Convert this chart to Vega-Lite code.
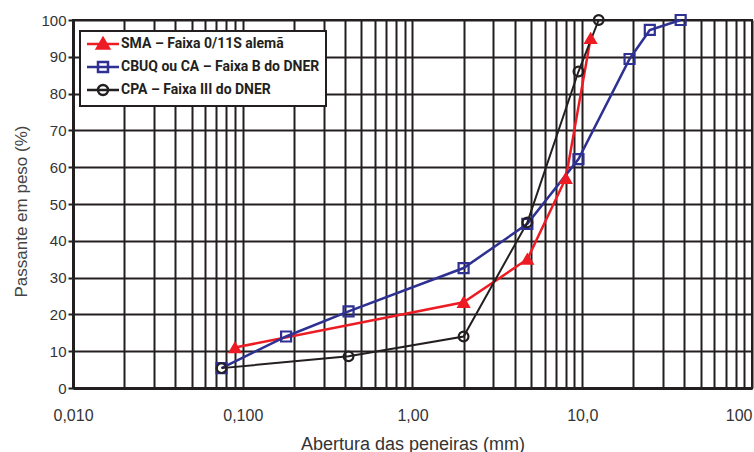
{
  "$schema": "https://vega.github.io/schema/vega-lite/v6.json",
  "width": 679,
  "height": 368,
  "autosize": "none",
  "padding": {"left": 73, "top": 20, "right": 2, "bottom": 64},
  "background": "white",
  "config": {"view": {"stroke": "#231F20", "strokeWidth": 2}},
  "data": {
    "values": [
      {"serie": "SMA – Faixa 0/11S alemã", "abertura": 0.09, "passante": 11},
      {"serie": "SMA – Faixa 0/11S alemã", "abertura": 2.0, "passante": 23.3},
      {"serie": "SMA – Faixa 0/11S alemã", "abertura": 4.75, "passante": 35},
      {"serie": "SMA – Faixa 0/11S alemã", "abertura": 8.0, "passante": 57},
      {"serie": "SMA – Faixa 0/11S alemã", "abertura": 11.2, "passante": 95},
      {"serie": "CBUQ ou CA – Faixa B do DNER", "abertura": 0.075, "passante": 5.4},
      {"serie": "CBUQ ou CA – Faixa B do DNER", "abertura": 0.18, "passante": 14},
      {"serie": "CBUQ ou CA – Faixa B do DNER", "abertura": 0.42, "passante": 20.8},
      {"serie": "CBUQ ou CA – Faixa B do DNER", "abertura": 2.0, "passante": 32.6},
      {"serie": "CBUQ ou CA – Faixa B do DNER", "abertura": 4.75, "passante": 44.6},
      {"serie": "CBUQ ou CA – Faixa B do DNER", "abertura": 9.5, "passante": 62.2},
      {"serie": "CBUQ ou CA – Faixa B do DNER", "abertura": 19, "passante": 89.4},
      {"serie": "CBUQ ou CA – Faixa B do DNER", "abertura": 25, "passante": 97.3},
      {"serie": "CBUQ ou CA – Faixa B do DNER", "abertura": 38, "passante": 100},
      {"serie": "CPA – Faixa III do DNER", "abertura": 0.075, "passante": 5.4},
      {"serie": "CPA – Faixa III do DNER", "abertura": 0.42, "passante": 8.6},
      {"serie": "CPA – Faixa III do DNER", "abertura": 2.0, "passante": 14},
      {"serie": "CPA – Faixa III do DNER", "abertura": 4.75, "passante": 45},
      {"serie": "CPA – Faixa III do DNER", "abertura": 9.5, "passante": 86},
      {"serie": "CPA – Faixa III do DNER", "abertura": 12.5, "passante": 100}
    ]
  },
  "encoding": {
    "x": {
      "field": "abertura",
      "type": "quantitative",
      "scale": {"type": "log", "domain": [0.01, 100], "nice": false},
      "axis": {
        "values": [0.01, 0.02, 0.03, 0.04, 0.05, 0.06, 0.07, 0.08, 0.09, 0.1, 0.2, 0.3, 0.4, 0.5, 0.6, 0.7, 0.8, 0.9, 1, 2, 3, 4, 5, 6, 7, 8, 9, 10, 20, 30, 40, 50, 60, 70, 80, 90, 100],
        "labelExpr": "datum.value == 0.01 ? '0,010' : datum.value == 0.1 ? '0,100' : datum.value == 1 ? '1,00' : datum.value == 10 ? '10,0' : datum.value == 100 ? '100' : ''",
        "labelFlush": false,
        "labelOverlap": false,
        "labelAlign": {"condition": {"test": "datum.value >= 100", "value": "right"}, "value": "center"},
        "grid": true,
        "gridColor": "#231F20",
        "gridWidth": 2,
        "gridOpacity": 1,
        "domainColor": "#231F20",
        "domainWidth": 3,
        "ticks": false,
        "labelPadding": 19,
        "labelFont": "Liberation Sans",
        "labelFontSize": 16,
        "labelColor": "#333333",
        "title": "Abertura das peneiras (mm)",
        "titleFont": "Liberation Sans",
        "titleFontSize": 18,
        "titleFontWeight": "normal",
        "titleColor": "#333333",
        "titlePadding": 12
      }
    },
    "y": {
      "field": "passante",
      "type": "quantitative",
      "scale": {"domain": [0, 100], "nice": false},
      "axis": {
        "values": [0, 10, 20, 30, 40, 50, 60, 70, 80, 90, 100],
        "grid": true,
        "gridColor": "#231F20",
        "gridWidth": 2,
        "gridOpacity": 1,
        "domainColor": "#231F20",
        "domainWidth": 3,
        "tickColor": "#231F20",
        "tickSize": 5,
        "tickWidth": 2,
        "labelPadding": 2,
        "labelFont": "Liberation Sans",
        "labelFontSize": 15,
        "labelColor": "#333333",
        "title": "Passante em peso (%)",
        "titleFont": "Liberation Sans",
        "titleFontSize": 17,
        "titleFontWeight": "normal",
        "titleColor": "#444444",
        "titlePadding": 10,
        "titleY": 191
      }
    },
    "color": {
      "field": "serie",
      "type": "nominal",
      "scale": {
        "domain": ["SMA – Faixa 0/11S alemã", "CBUQ ou CA – Faixa B do DNER", "CPA – Faixa III do DNER"],
        "range": ["#ED1C24", "#2E3192", "#231F20"]
      },
      "legend": {
        "title": null,
        "orient": "none",
        "legendX": 7,
        "legendY": 11,
        "padding": 6,
        "rowPadding": 3,
        "symbolSize": 100,
        "symbolOffset": 10,
        "symbolStrokeWidth": 2.5,
        "symbolOpacity": 1,
        "labelOffset": 11,
        "labelFont": "Roboto",
        "labelFontSize": 14,
        "labelFontWeight": "bold",
        "labelColor": "#231F20",
        "labelLimit": 0,
        "fillColor": "white",
        "strokeColor": "#231F20",
        "encode": {
          "symbols": {
            "update": {
              "shape": {"signal": "indexof(datum.value, 'SMA') == 0 ? 'M-3.2,0H3.2M0,-1.15L1.2,0.9L-1.2,0.9Z' : indexof(datum.value, 'CBUQ') == 0 ? 'M-3.2,0H3.2M-1,-1H1V1H-1Z' : 'M-3.2,0H3.2M1,0A1,1 0 1,1 -1,0A1,1 0 1,1 1,0Z'"},
              "fill": {"signal": "indexof(datum.value, 'SMA') == 0 ? '#ED1C24' : 'transparent'"},
              "strokeWidth": {"value": 2.5},
              "opacity": {"value": 1}
            }
          },
          "legend": {"update": {"strokeWidth": {"value": 2}}}
        }
      }
    }
  },
  "layer": [
    {
      "mark": {"type": "line"},
      "encoding": {
        "strokeWidth": {"condition": {"test": "datum.serie === 'CPA – Faixa III do DNER'", "value": 2}, "value": 2.5}
      }
    },
    {
      "transform": [{"filter": "datum.serie === 'SMA – Faixa 0/11S alemã'"}],
      "mark": {"type": "point", "shape": "triangle-up", "filled": false, "fill": "#ED1C24", "strokeWidth": 2, "size": 115, "opacity": 1}
    },
    {
      "transform": [{"filter": "datum.serie === 'CBUQ ou CA – Faixa B do DNER'"}],
      "mark": {"type": "point", "shape": "square", "filled": false, "strokeWidth": 2.2, "size": 100, "opacity": 1}
    },
    {
      "transform": [{"filter": "datum.serie === 'CPA – Faixa III do DNER'"}],
      "mark": {"type": "point", "shape": "circle", "filled": false, "strokeWidth": 2.2, "size": 95, "opacity": 1}
    }
  ]
}
